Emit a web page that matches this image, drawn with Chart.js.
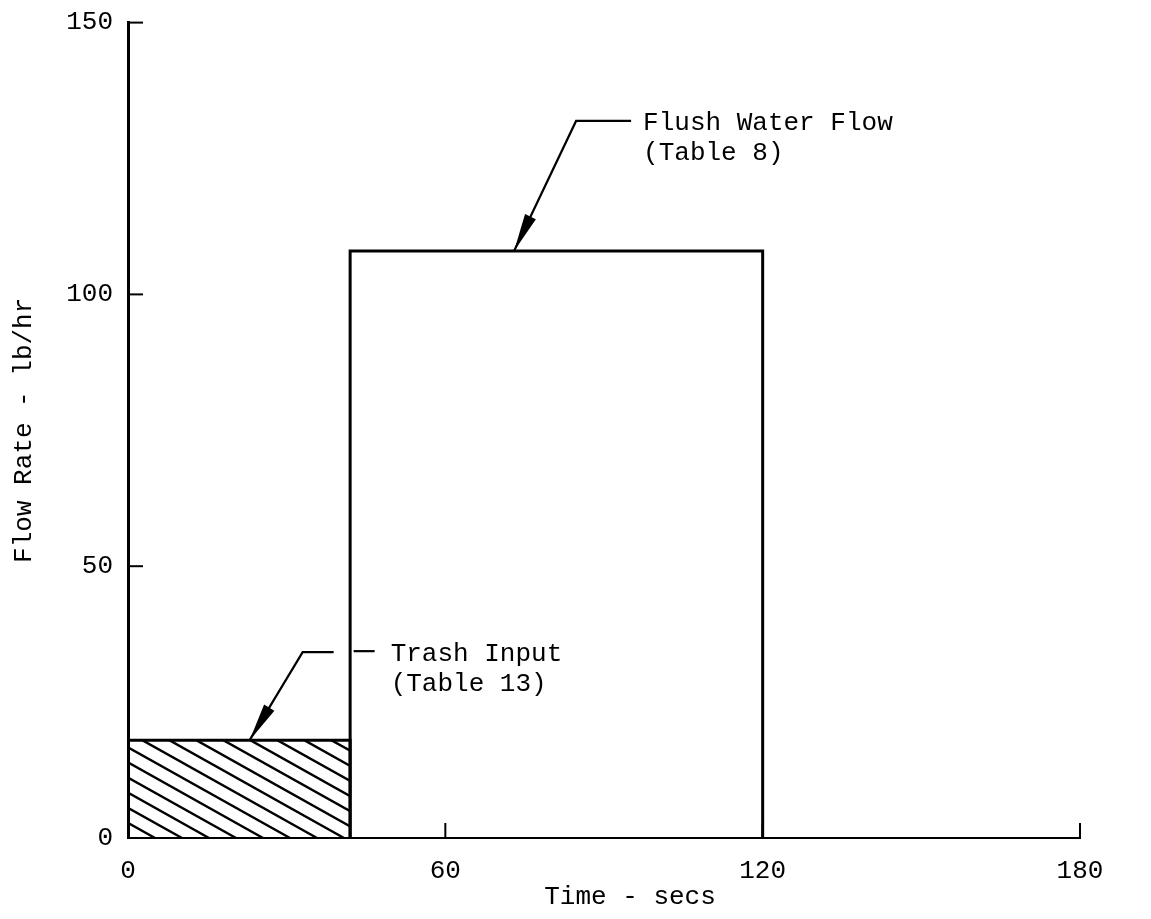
<!DOCTYPE html>
<html>
<head>
<meta charset="utf-8">
<script src="https://cdn.jsdelivr.net/npm/chart.js@4.4.1/dist/chart.umd.min.js"></script>
<style>
  html, body { margin: 0; padding: 0; background: #fff; }
  #wrap { width: 1151px; height: 919px; position: relative; }
</style>
</head>
<body>
<div id="wrap"><canvas id="flowChart"></canvas></div>
<script>
// Flow rate vs time - trash input / flush water flow
const seriesNames = ['Trash Input', 'Flush Water Flow'];
const tableRefs = ['(Table 13)', '(Table 8)'];
const segStart = [0, 42];      // secs
const segEnd = [42, 120];      // secs
const flowRate = [18, 108];    // lb/hr
const arrowAt = [23, 73];      // where each callout arrow touches the bar top (secs)
const xTicks = [0, 60, 120, 180];
const yTicks = [0, 50, 100, 150];

const FONT = "'Liberation Mono', 'Courier New', monospace";
const INK = '#000';

function blockPoints(i) {
  return [
    { x: segStart[i], y: 0 },
    { x: segStart[i], y: flowRate[i] },
    { x: segEnd[i], y: flowRate[i] },
    { x: segEnd[i], y: 0 }
  ];
}

// diagonal hatch inside the trash block, clipped to it
const hatch = {
  id: 'hatch',
  beforeDatasetsDraw(chart) {
    const { ctx, scales: { x, y } } = chart;
    const l = x.getPixelForValue(segStart[0]), r = x.getPixelForValue(segEnd[0]);
    const t = y.getPixelForValue(flowRate[0]), b = y.getPixelForValue(0);
    ctx.save();
    ctx.beginPath();
    ctx.rect(l, t, r - l, b - t);
    ctx.clip();
    ctx.strokeStyle = INK;
    ctx.lineWidth = 2.4;
    const slope = 0.56, gap = 27;
    const h = b - t;
    for (let sx = l - h / slope - gap; sx < r + gap; sx += gap) {
      ctx.beginPath();
      ctx.moveTo(sx, t);
      ctx.lineTo(sx + h / slope, b);
      ctx.stroke();
    }
    ctx.restore();
  }
};

// inward tick marks like the hand drawn axes
const innerTicks = {
  id: 'innerTicks',
  afterDraw(chart) {
    const { ctx, scales: { x, y } } = chart;
    ctx.save();
    ctx.strokeStyle = INK;
    ctx.lineWidth = 2;
    xTicks.forEach(v => {
      if (v === 0) return;
      const px = x.getPixelForValue(v);
      ctx.beginPath();
      ctx.moveTo(px, y.getPixelForValue(0));
      ctx.lineTo(px, y.getPixelForValue(0) - 15);
      ctx.stroke();
    });
    yTicks.forEach(v => {
      if (v === 0) return;
      const py = y.getPixelForValue(v);
      ctx.beginPath();
      ctx.moveTo(x.getPixelForValue(0), py);
      ctx.lineTo(x.getPixelForValue(0) + 15, py);
      ctx.stroke();
    });
    // x axis title, sits a bit right of centre in the original
    ctx.fillStyle = INK;
    ctx.font = '26px ' + FONT;
    ctx.textAlign = 'center';
    ctx.textBaseline = 'middle';
    ctx.fillText('Time - secs', (x.left + x.right) / 2 + 26, 897);
    ctx.restore();
  }
};

// leader lines + labels
const callouts = {
  id: 'callouts',
  afterDraw(chart) {
    const { ctx, scales: { x, y } } = chart;
    const bends = [
      { dx: 53, dy: -88, run: 31, dash: true, tx: 141 },
      { dx: 62, dy: -130, run: 55, dash: false, tx: 129 }
    ];
    ctx.save();
    ctx.strokeStyle = INK;
    ctx.fillStyle = INK;
    ctx.lineWidth = 2.2;
    ctx.font = '26px ' + FONT;
    ctx.textBaseline = 'middle';
    seriesNames.forEach((name, i) => {
      const b = bends[i];
      const tipX = x.getPixelForValue(arrowAt[i]);
      const tipY = y.getPixelForValue(flowRate[i]);
      const ex = tipX + b.dx, ey = tipY + b.dy;
      ctx.beginPath();
      ctx.moveTo(ex + b.run, ey);
      ctx.lineTo(ex, ey);
      ctx.lineTo(tipX, tipY);
      ctx.stroke();
      // arrow head
      const ang = Math.atan2(tipY - ey, tipX - ex);
      const len = 38, half = 6;
      const bx = tipX - Math.cos(ang) * len, by = tipY - Math.sin(ang) * len;
      ctx.beginPath();
      ctx.moveTo(tipX, tipY);
      ctx.lineTo(bx + Math.sin(ang) * half, by - Math.cos(ang) * half);
      ctx.lineTo(bx - Math.sin(ang) * half, by + Math.cos(ang) * half);
      ctx.closePath();
      ctx.fill();
      if (b.dash) {
        ctx.beginPath();
        ctx.moveTo(ex + 51, ey - 1);
        ctx.lineTo(ex + 72, ey - 1);
        ctx.stroke();
      }
      ctx.fillText(name, tipX + b.tx, ey + 2);
      ctx.fillText(tableRefs[i], tipX + b.tx, ey + 32);
    });
    ctx.restore();
  }
};

const ctx = document.getElementById('flowChart');
new Chart(ctx, {
  type: 'line',
  data: {
    datasets: [
      {
        label: seriesNames[0],
        data: blockPoints(0),
        borderColor: INK,
        borderWidth: 3,
        fill: false,
        pointRadius: 0,
        tension: 0
      },
      {
        label: seriesNames[1],
        data: blockPoints(1),
        borderColor: INK,
        borderWidth: 3,
        fill: false,
        pointRadius: 0,
        tension: 0
      }
    ]
  },
  options: {
    responsive: true,
    maintainAspectRatio: false,
    animation: false,
    layout: { padding: { top: 16, right: 71, left: 0, bottom: 0 } },
    plugins: {
      legend: { display: false },
      tooltip: { enabled: false }
    },
    scales: {
      x: {
        type: 'linear',
        min: 0,
        max: 180,
        afterBuildTicks: s => { s.ticks = xTicks.map(v => ({ value: v })); },
        afterFit: s => { s.height = 81; },
        grid: { display: false },
        border: { display: true, color: INK, width: 2 },
        ticks: { color: INK, padding: 10, font: { family: FONT, size: 26 } }
      },
      y: {
        min: 0,
        max: 150,
        afterBuildTicks: s => { s.ticks = yTicks.map(v => ({ value: v })); },
        afterFit: s => { s.width = 128; },
        grid: { display: false },
        border: { display: true, color: INK, width: 3 },
        ticks: { color: INK, padding: 7, font: { family: FONT, size: 26 } },
        title: {
          display: true,
          text: 'Flow Rate - lb/hr',
          color: INK,
          padding: { top: 9, bottom: 0 },
          font: { family: FONT, size: 26 }
        }
      }
    }
  },
  plugins: [hatch, innerTicks, callouts]
});
</script>
</body>
</html>
